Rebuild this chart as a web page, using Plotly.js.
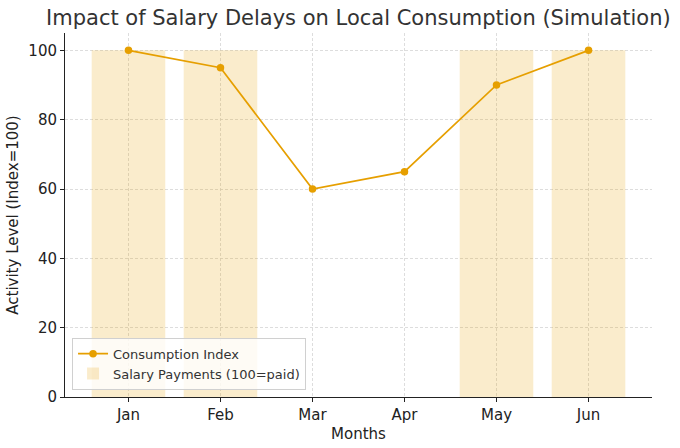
<!DOCTYPE html>
<html>
<head>
<meta charset="utf-8">
<script src="https://cdn.plot.ly/plotly-3.0.1.min.js"></script>
<style>
  body { margin: 0; background: #fff; }
  #plot { width: 680px; height: 448px; }
</style>
</head>
<body>
<div id="plot"></div>
<script>
// months and simulated values
var months = ['Jan', 'Feb', 'Mar', 'Apr', 'May', 'Jun'];
var consumption = [100, 95, 60, 65, 90, 100];
var salaryPaid = [100, 100, 0, 0, 100, 100];
var yTicks = [0, 20, 40, 60, 80, 100];

var orange = '#E69F00';
var font = 'DejaVu Sans, sans-serif';

var bars = {
  x: months,
  y: salaryPaid,
  type: 'bar',
  name: 'Salary Payments (100=paid)',
  width: 0.8,
  marker: { color: 'rgba(230,159,0,0.2)', line: { width: 0 } },
  hoverinfo: 'skip'
};

var line = {
  x: months,
  y: consumption,
  type: 'scatter',
  mode: 'lines+markers',
  name: 'Consumption Index',
  line: { color: orange, width: 1.7 },
  marker: { color: orange, size: 7.5 }
};

var layout = {
  width: 680,
  height: 448,
  margin: { l: 65, r: 28, t: 33, b: 51 },
  paper_bgcolor: '#fff',
  plot_bgcolor: '#fff',
  font: { family: font, color: '#222', size: 14 },
  title: {
    text: 'Impact of Salary Delays on Local Consumption (Simulation)',
    font: { family: font, size: 21, color: '#333' },
    x: 0.527, xanchor: 'center', y: 0.978, yanchor: 'top'
  },
  xaxis: {
    range: [-0.69, 5.69],
    title: { text: 'Months', font: { size: 15 }, standoff: 5 },
    showline: true, linecolor: '#222', linewidth: 1,
    ticks: 'outside', ticklen: 4, tickcolor: '#222',
    showgrid: true, gridcolor: '#d4d4d4', griddash: '3px,2px', gridwidth: 0.8,
    zeroline: false,
    tickfont: { size: 15 }
  },
  yaxis: {
    range: [0, 105],
    tickvals: yTicks,
    title: { text: 'Activity Level (Index=100)', font: { size: 15 }, standoff: 6 },
    showline: true, linecolor: '#222', linewidth: 1,
    ticks: 'outside', ticklen: 4, tickcolor: '#222',
    showgrid: true, gridcolor: '#d4d4d4', griddash: '3px,2px', gridwidth: 0.8,
    zeroline: false,
    tickfont: { size: 15 }
  },
  showlegend: true,
  legend: {
    x: 0.012, y: 0.02, xanchor: 'left', yanchor: 'bottom',
    bgcolor: 'rgba(255,255,255,0.8)',
    bordercolor: '#d0d0d0', borderwidth: 1,
    font: { size: 13, color: '#333' },
    tracegroupgap: 0,
    traceorder: 'reversed'
  }
};

Plotly.newPlot('plot', [bars, line], layout, { displayModeBar: false, staticPlot: true });
</script>
</body>
</html>
